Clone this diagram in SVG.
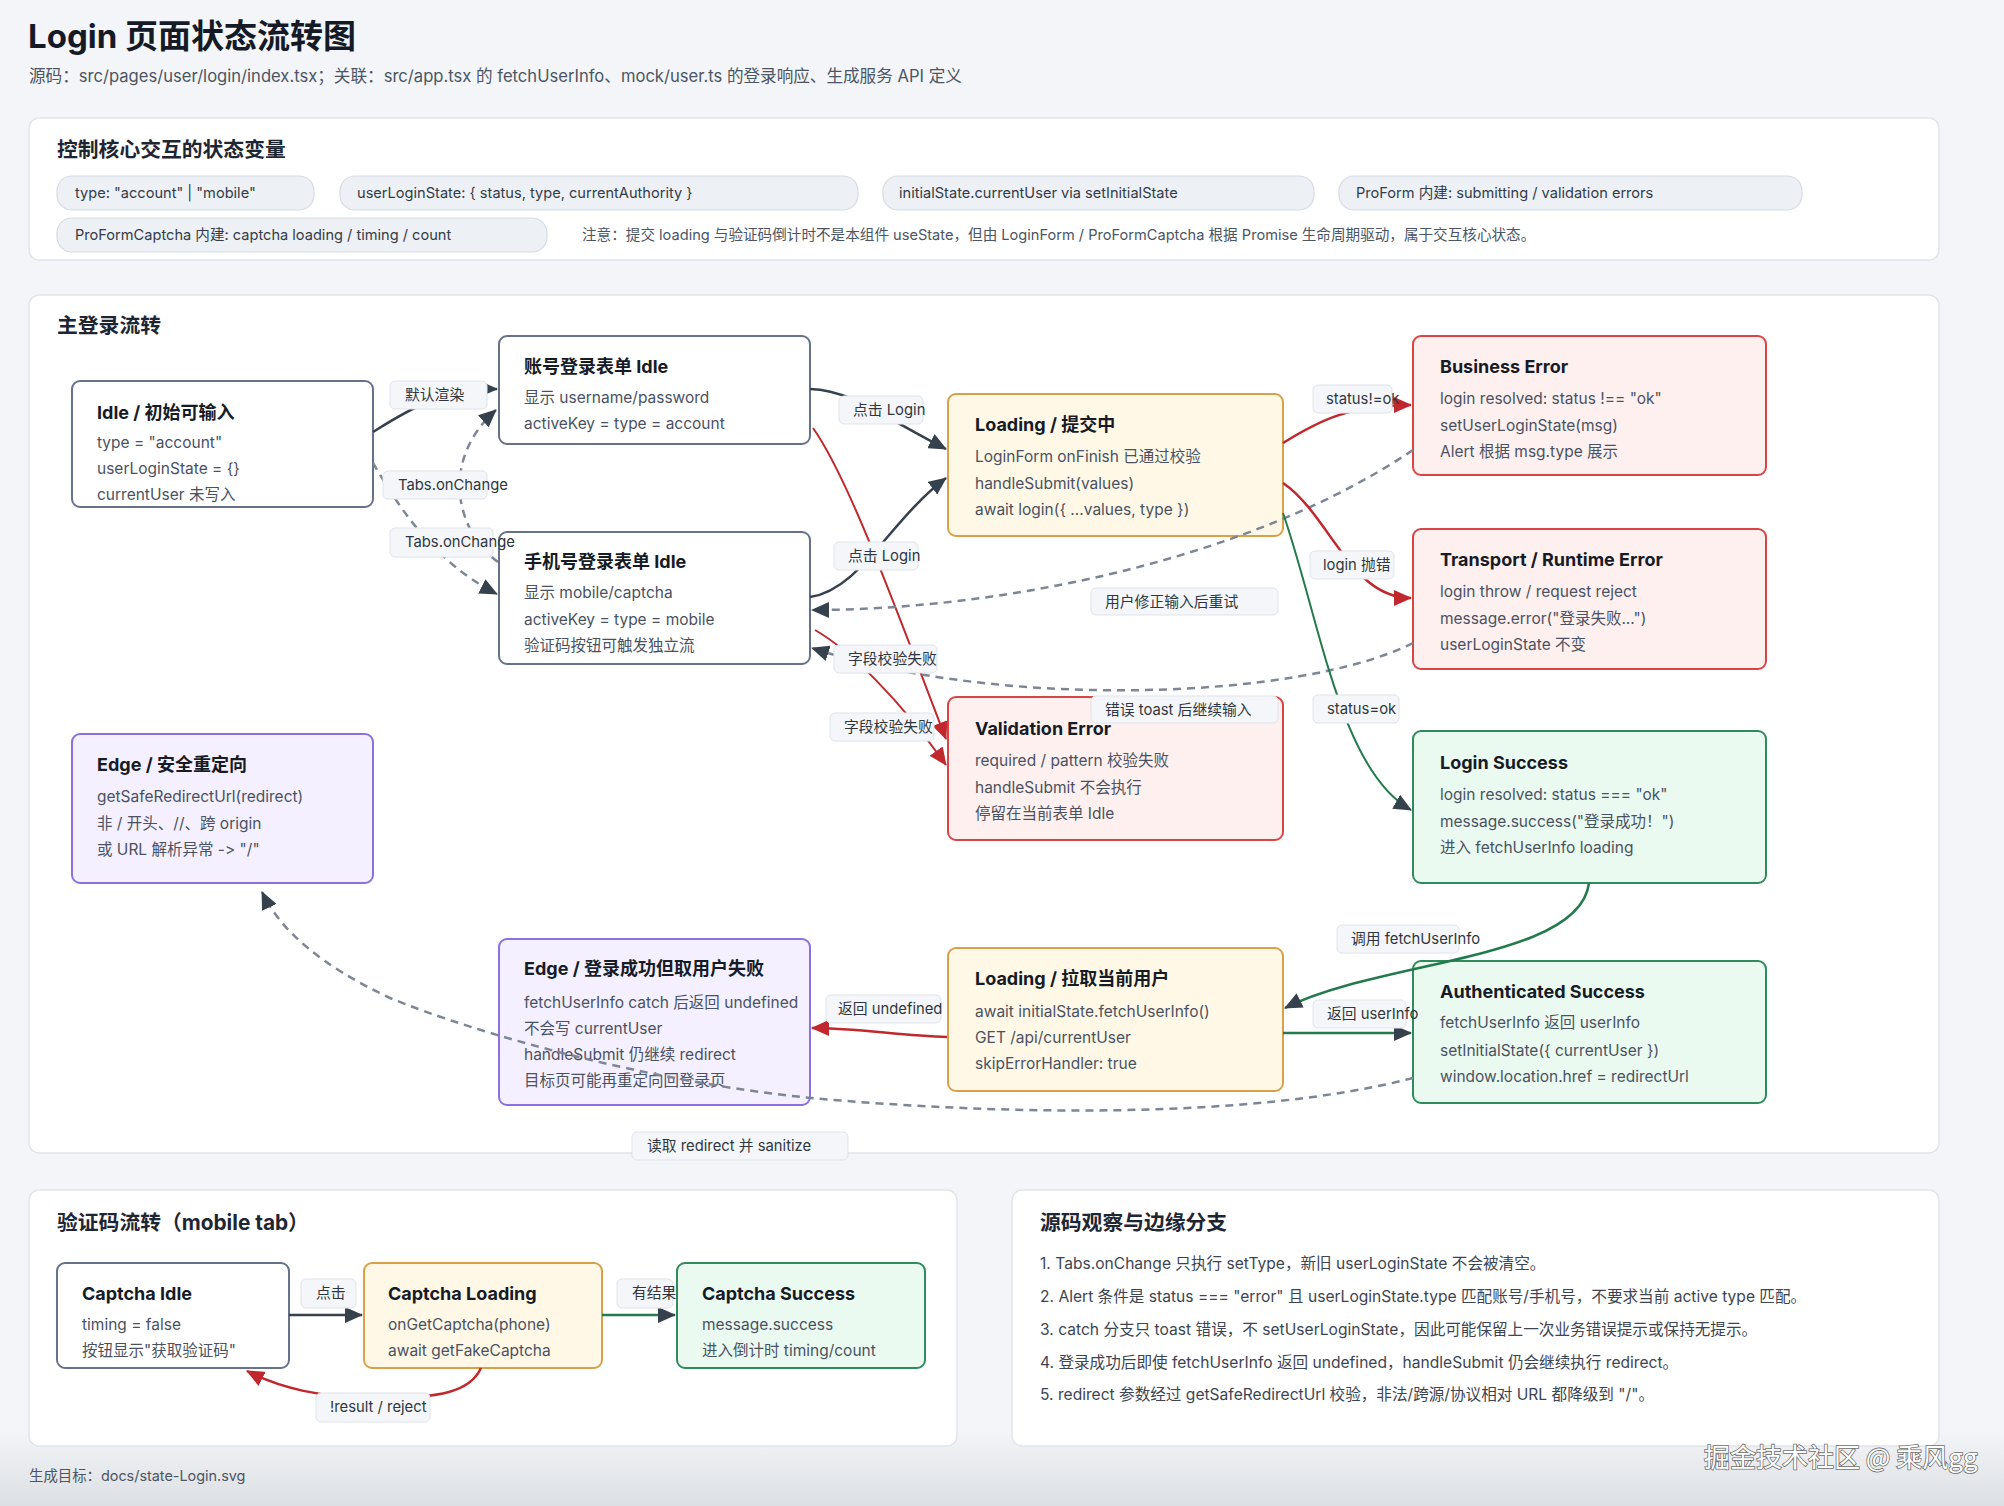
<svg xmlns="http://www.w3.org/2000/svg" width="2004" height="1506" viewBox="0 0 2004 1506">
<defs>
<style>
text{font-family:Inter,"Noto Sans CJK SC",sans-serif;dominant-baseline:central;font-feature-settings:"calt" 0,"liga" 0;font-variant-ligatures:none}
.sec{fill:#fff;stroke:#e1e5ea;stroke-width:1.5}
.h1{font-size:33px;font-weight:700;fill:#141a26}
.sub{font-size:16.6px;fill:#4b5563}
.h2{font-size:20.8px;font-weight:700;fill:#1f2633}
.chip{fill:#edf1f6;stroke:#d5dbe4;stroke-width:1.2}
.ct{font-size:14.6px;fill:#333b48}
.note{font-size:14.6px;fill:#4b5563}
.n rect{stroke-width:2}
.neutral rect{fill:#fff;stroke:#66718a}
.load rect{fill:#fff8e7;stroke:#d8a047}
.err rect{fill:#fff0f0;stroke:#d94444}
.ok rect{fill:#ebfaf1;stroke:#2f8a5c}
.edg rect{fill:#f4f0ff;stroke:#8a70e0}
.nt{font-size:18px;font-weight:700;fill:#161b26}
.nb{font-size:15.5px;fill:#4a5262}
.e{fill:none;stroke-width:2.5}
.thin{stroke-width:2}
.dark{stroke:#36414e}
.red{stroke:#c0282d}
.green{stroke:#237a4d}
.dash{stroke:#7d8695;stroke-dasharray:8 6}
.lbl rect{fill:#f4f6f9;stroke:#dfe3e9;stroke-width:1}
.lbl text{font-size:14.8px;fill:#2f3640}
.li{font-size:15.6px;fill:#3d4552}
.foot{font-size:14.4px;fill:#4b5563}
.wm{font-size:26px;fill:#fff;stroke:#6f6f6f;stroke-width:1.6;paint-order:stroke;font-family:"Noto Sans CJK SC",sans-serif}
</style>
<marker id="aDark" markerUnits="userSpaceOnUse" markerWidth="18" markerHeight="16" viewBox="0 0 18 16" refX="17" refY="8" orient="auto"><path d="M0,0 L18,8 L0,16 z" fill="#36414e"/></marker>
<marker id="aRed" markerUnits="userSpaceOnUse" markerWidth="18" markerHeight="16" viewBox="0 0 18 16" refX="17" refY="8" orient="auto"><path d="M0,0 L18,8 L0,16 z" fill="#c0282d"/></marker>
<marker id="aGreen" markerUnits="userSpaceOnUse" markerWidth="18" markerHeight="16" viewBox="0 0 18 16" refX="17" refY="8" orient="auto"><path d="M0,0 L18,8 L0,16 z" fill="#36414e"/></marker>
<linearGradient id="shade" x1="0" y1="0" x2="0" y2="1">
<stop offset="0" stop-color="#8a9099" stop-opacity="0"/>
<stop offset="1" stop-color="#8a9099" stop-opacity="0.22"/>
</linearGradient>
</defs>
<rect x="0" y="0" width="2004" height="1506" fill="#f3f5f8"/>
<rect x="0" y="1430" width="2004" height="76" fill="url(#shade)"/>

<text class="h1" x="28" y="36">Login 页面状态流转图</text>
<text class="sub" x="29" y="76">源码：src/pages/user/login/index.tsx；关联：src/app.tsx 的 fetchUserInfo、mock/user.ts 的登录响应、生成服务 API 定义</text>

<g id="state-vars">
<rect class="sec" x="29" y="118" width="1910" height="142" rx="10"/>
<text class="h2" x="57" y="149">控制核心交互的状态变量</text>
<rect class="chip" x="57" y="176" width="257" height="34" rx="15"/>
<text class="ct" x="75" y="193">type: "account" | "mobile"</text>
<rect class="chip" x="340" y="176" width="518" height="34" rx="15"/>
<text class="ct" x="357" y="193">userLoginState: { status, type, currentAuthority }</text>
<rect class="chip" x="883" y="176" width="431" height="34" rx="15"/>
<text class="ct" x="899" y="193">initialState.currentUser via setInitialState</text>
<rect class="chip" x="1339" y="176" width="463" height="34" rx="15"/>
<text class="ct" x="1356" y="193">ProForm 内建: submitting / validation errors</text>
<rect class="chip" x="57" y="218" width="490" height="34" rx="15"/>
<text class="ct" x="75" y="235">ProFormCaptcha 内建: captcha loading / timing / count</text>
<text class="note" x="582" y="235">注意：提交 loading 与验证码倒计时不是本组件 useState，但由 LoginForm / ProFormCaptcha 根据 Promise 生命周期驱动，属于交互核心状态。</text>
</g>

<rect class="sec" x="29" y="295" width="1910" height="858" rx="10"/>
<text class="h2" x="57" y="325">主登录流转</text>

<g id="idle" class="n neutral"><rect x="72" y="381" width="301" height="126" rx="8"/>
<text class="nt" x="97" y="412">Idle / 初始可输入</text>
<text class="nb" x="97" y="442">type = "account"</text>
<text class="nb" x="97" y="468">userLoginState = {}</text>
<text class="nb" x="97" y="494">currentUser 未写入</text></g>

<g id="account-idle" class="n neutral"><rect x="499" y="336" width="311" height="108" rx="8"/>
<text class="nt" x="524" y="366">账号登录表单 Idle</text>
<text class="nb" x="524" y="397">显示 username/password</text>
<text class="nb" x="524" y="423">activeKey = type = account</text></g>

<g id="mobile-idle" class="n neutral"><rect x="499" y="532" width="311" height="132" rx="8"/>
<text class="nt" x="524" y="561">手机号登录表单 Idle</text>
<text class="nb" x="524" y="592">显示 mobile/captcha</text>
<text class="nb" x="524" y="619">activeKey = type = mobile</text>
<text class="nb" x="524" y="645">验证码按钮可触发独立流</text></g>

<g id="loading-submit" class="n load"><rect x="948" y="394" width="335" height="142" rx="8"/>
<text class="nt" x="975" y="424">Loading / 提交中</text>
<text class="nb" x="975" y="456">LoginForm onFinish 已通过校验</text>
<text class="nb" x="975" y="483">handleSubmit(values)</text>
<text class="nb" x="975" y="509">await login({ ...values, type })</text></g>

<g id="business-error" class="n err"><rect x="1413" y="336" width="353" height="139" rx="8"/>
<text class="nt" x="1440" y="366">Business Error</text>
<text class="nb" x="1440" y="398">login resolved: status !== "ok"</text>
<text class="nb" x="1440" y="425">setUserLoginState(msg)</text>
<text class="nb" x="1440" y="451">Alert 根据 msg.type 展示</text></g>

<g id="transport-error" class="n err"><rect x="1413" y="529" width="353" height="140" rx="8"/>
<text class="nt" x="1440" y="559">Transport / Runtime Error</text>
<text class="nb" x="1440" y="591">login throw / request reject</text>
<text class="nb" x="1440" y="618">message.error("登录失败...")</text>
<text class="nb" x="1440" y="644">userLoginState 不变</text></g>

<g id="validation-error" class="n err"><rect x="948" y="697" width="335" height="143" rx="8"/>
<text class="nt" x="975" y="728">Validation Error</text>
<text class="nb" x="975" y="760">required / pattern 校验失败</text>
<text class="nb" x="975" y="787">handleSubmit 不会执行</text>
<text class="nb" x="975" y="813">停留在当前表单 Idle</text></g>

<g id="login-success" class="n ok"><rect x="1413" y="731" width="353" height="152" rx="8"/>
<text class="nt" x="1440" y="762">Login Success</text>
<text class="nb" x="1440" y="794">login resolved: status === "ok"</text>
<text class="nb" x="1440" y="821">message.success("登录成功！")</text>
<text class="nb" x="1440" y="847">进入 fetchUserInfo loading</text></g>

<g id="edge-redirect" class="n edg"><rect x="72" y="734" width="301" height="149" rx="8"/>
<text class="nt" x="97" y="764">Edge / 安全重定向</text>
<text class="nb" x="97" y="796">getSafeRedirectUrl(redirect)</text>
<text class="nb" x="97" y="823">非 / 开头、//、跨 origin</text>
<text class="nb" x="97" y="849">或 URL 解析异常 -&gt; "/"</text></g>

<g id="edge-fetch-fail" class="n edg"><rect x="499" y="939" width="311" height="166" rx="8"/>
<text class="nt" x="524" y="968">Edge / 登录成功但取用户失败</text>
<text class="nb" x="524" y="1002">fetchUserInfo catch 后返回 undefined</text>
<text class="nb" x="524" y="1028">不会写 currentUser</text>
<text class="nb" x="524" y="1054">handleSubmit 仍继续 redirect</text>
<text class="nb" x="524" y="1080">目标页可能再重定向回登录页</text></g>

<g id="loading-user" class="n load"><rect x="948" y="948" width="335" height="143" rx="8"/>
<text class="nt" x="975" y="978">Loading / 拉取当前用户</text>
<text class="nb" x="975" y="1011">await initialState.fetchUserInfo()</text>
<text class="nb" x="975" y="1037">GET /api/currentUser</text>
<text class="nb" x="975" y="1063">skipErrorHandler: true</text></g>

<g id="auth-success" class="n ok"><rect x="1413" y="961" width="353" height="142" rx="8"/>
<text class="nt" x="1440" y="991">Authenticated Success</text>
<text class="nb" x="1440" y="1022">fetchUserInfo 返回 userInfo</text>
<text class="nb" x="1440" y="1050">setInitialState({ currentUser })</text>
<text class="nb" x="1440" y="1076">window.location.href = redirectUrl</text></g>

<rect class="sec" x="29" y="1190" width="928" height="256" rx="10"/>
<text class="h2" x="57" y="1222">验证码流转（mobile tab）</text>

<g id="captcha-idle" class="n neutral"><rect x="57" y="1263" width="232" height="105" rx="8"/>
<text class="nt" x="82" y="1293">Captcha Idle</text>
<text class="nb" x="82" y="1324">timing = false</text>
<text class="nb" x="82" y="1350">按钮显示"获取验证码"</text></g>

<g id="captcha-loading" class="n load"><rect x="364" y="1263" width="238" height="105" rx="8"/>
<text class="nt" x="388" y="1293">Captcha Loading</text>
<text class="nb" x="388" y="1324">onGetCaptcha(phone)</text>
<text class="nb" x="388" y="1350">await getFakeCaptcha</text></g>

<g id="captcha-success" class="n ok"><rect x="677" y="1263" width="248" height="105" rx="8"/>
<text class="nt" x="702" y="1293">Captcha Success</text>
<text class="nb" x="702" y="1324">message.success</text>
<text class="nb" x="702" y="1350">进入倒计时 timing/count</text></g>

<g id="notes">
<rect class="sec" x="1012" y="1190" width="927" height="256" rx="10"/>
<text class="h2" x="1040" y="1222">源码观察与边缘分支</text>
<text class="li" x="1040" y="1263">1. Tabs.onChange 只执行 setType，新旧 userLoginState 不会被清空。</text>
<text class="li" x="1040" y="1296">2. Alert 条件是 status === "error" 且 userLoginState.type 匹配账号/手机号，不要求当前 active type 匹配。</text>
<text class="li" x="1040" y="1329">3. catch 分支只 toast 错误，不 setUserLoginState，因此可能保留上一次业务错误提示或保持无提示。</text>
<text class="li" x="1040" y="1362">4. 登录成功后即使 fetchUserInfo 返回 undefined，handleSubmit 仍会继续执行 redirect。</text>
<text class="li" x="1040" y="1394">5. redirect 参数经过 getSafeRedirectUrl 校验，非法/跨源/协议相对 URL 都降级到 "/"。</text>
</g>

<g id="connectors">
<g id="edge-lines">
<path class="e dark" d="M373,432 C405,412 440,389 497,389" marker-end="url(#aDark)"/>
<path class="e dash" d="M373,463 C395,500 430,560 497,594" marker-end="url(#aDark)"/>
<path class="e dash" d="M498,562 C455,530 440,460 496,410" marker-end="url(#aDark)"/>
<path class="e dark" d="M810,389 C850,390 880,415 946,449" marker-end="url(#aDark)"/>
<path class="e dark" d="M810,597 C860,590 890,520 946,478" marker-end="url(#aDark)"/>
<path class="e thin red" d="M813,428 C850,480 900,620 946,739" marker-end="url(#aRed)"/>
<path class="e thin red" d="M815,630 C850,650 900,700 946,765" marker-end="url(#aRed)"/>
<path class="e dash" d="M1413,450 C1250,560 1000,610 812,610" marker-end="url(#aDark)"/>
<path class="e dash" d="M1413,643 C1300,700 1000,710 812,648" marker-end="url(#aDark)"/>
<path class="e red" d="M1283,443 C1320,420 1350,405 1411,405" marker-end="url(#aRed)"/>
<path class="e red" d="M1283,483 C1330,515 1350,598 1411,598" marker-end="url(#aRed)"/>
<path class="e thin green" d="M1283,513 C1320,620 1340,770 1411,810" marker-end="url(#aGreen)"/>
<path class="e green" d="M1589,883 C1580,960 1380,960 1285,1008" marker-end="url(#aGreen)"/>
<path class="e green" d="M1283,1033 L1411,1033" marker-end="url(#aGreen)"/>
<path class="e red" d="M947,1037 C900,1036 860,1028 812,1028" marker-end="url(#aRed)"/>
<path class="e dash" d="M1413,1078 C1250,1120 1000,1115 811,1098 C650,1082 480,1035 390,998 C320,965 280,930 262,892" marker-end="url(#aDark)"/>
<path class="e dark" d="M289,1315 L362,1315" marker-end="url(#aDark)"/>
<path class="e green" d="M602,1315 L675,1315" marker-end="url(#aGreen)"/>
<path class="e red" d="M481,1368 C470,1392 440,1398 380,1398 C320,1398 280,1388 247,1371" marker-end="url(#aRed)"/>
</g>
<g id="edge-labels" class="lbl">
<rect x="390" y="381" width="97" height="28" rx="5"/><text x="405" y="395">默认渲染</text>
<rect x="383" y="471" width="104" height="28" rx="5"/><text x="398" y="485">Tabs.onChange</text>
<rect x="390" y="528" width="103" height="29" rx="5"/><text x="405" y="542">Tabs.onChange</text>
<rect x="839" y="396" width="84" height="28" rx="5"/><text x="853" y="410">点击 Login</text>
<rect x="834" y="542" width="84" height="28" rx="5"/><text x="848" y="556">点击 Login</text>
<rect x="834" y="645" width="103" height="28" rx="5"/><text x="848" y="659">字段校验失败</text>
<rect x="830" y="713" width="104" height="28" rx="5"/><text x="844" y="727">字段校验失败</text>
<rect x="1091" y="588" width="187" height="27" rx="5"/><text x="1105" y="602">用户修正输入后重试</text>
<rect x="1091" y="696" width="187" height="27" rx="5"/><text x="1105" y="710">错误 toast 后继续输入</text>
<rect x="1313" y="385" width="79" height="28" rx="5"/><text x="1326" y="399">status!=ok</text>
<rect x="1310" y="551" width="84" height="28" rx="5"/><text x="1323" y="565">login 抛错</text>
<rect x="1313" y="695" width="86" height="28" rx="5"/><text x="1327" y="709">status=ok</text>
<rect x="1337" y="925" width="122" height="28" rx="5"/><text x="1351" y="939">调用 fetchUserInfo</text>
<rect x="1313" y="1000" width="93" height="28" rx="5"/><text x="1327" y="1014">返回 userInfo</text>
<rect x="826" y="995" width="115" height="28" rx="5"/><text x="838" y="1009">返回 undefined</text>
<rect x="632" y="1132" width="216" height="28" rx="5"/><text x="647" y="1146">读取 redirect 并 sanitize</text>
<rect x="301" y="1279" width="55" height="29" rx="5"/><text x="316" y="1293">点击</text>
<rect x="617" y="1279" width="56" height="29" rx="5"/><text x="632" y="1293">有结果</text>
<rect x="316" y="1393" width="114" height="29" rx="5"/><text x="330" y="1407">!result / reject</text>
</g>
</g>

<text class="foot" x="29" y="1475">生成目标：docs/state-Login.svg</text>
<text class="wm" x="1704" y="1455">掘金技术社区 @ 乘风gg</text>
</svg>
